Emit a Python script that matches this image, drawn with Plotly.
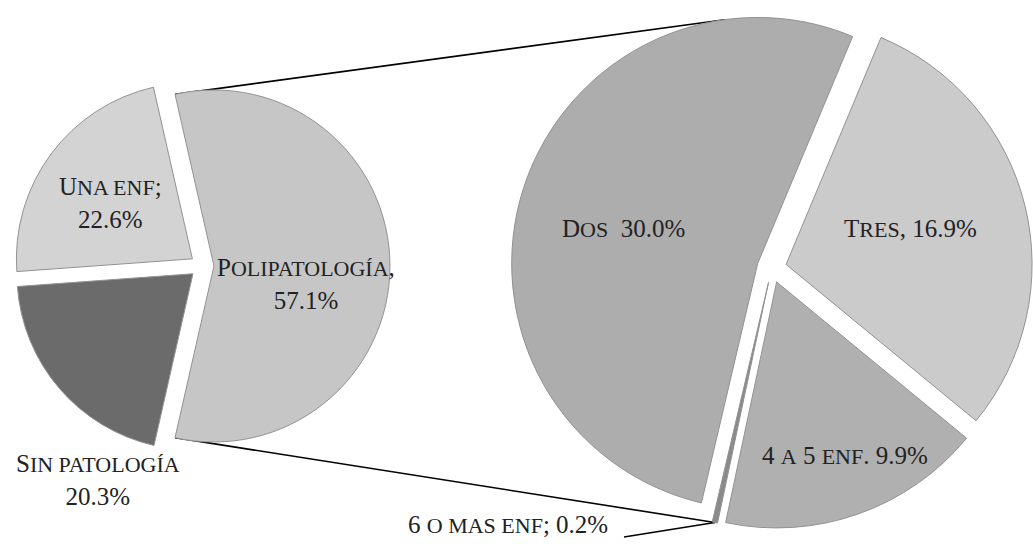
import math
import plotly.graph_objects as go

W, H = 1033, 544

# ---------------- data ----------------
main_labels = ["Polipatología", "Sin patología", "Una enf"]
main_values = [57.1, 20.3, 22.6]
main_seps = [",<br>", "<br>", ";<br>"]

sub_labels = ["Tres", "4 a 5 enf.", "6 o mas enf", "Dos"]
sub_values = [16.9, 9.9, 0.2, 30.0]
sub_seps = [", ", " ", "; ", "\u00a0 "]

# ---------------- style ----------------
main_colors = ["#c6c6c6", "#6b6b6b", "#d3d3d3"]
sub_colors = ["#cbcbcb", "#b0b0b0", "#8a8a8a", "#adadad"]
BIG, SMALL = 25, 22
FONT = "Liberation Serif"

# left pie geometry (pixels)
L_CX, L_CY, L_R, L_PULL = 202, 266, 176, 0.068
# right pie geometry (pixels)
R_R, R_PULL = 246, 0.06
R_HALF = R_R * (1 + R_PULL)
R_CX, R_CY = W - R_HALF - 0.5, 268
R_ROT = 22.7

# rotation of left pie so the "other" slice is centred on the right
L_ROT = 90 - 180 * main_values[0] / sum(main_values)


def smallcaps(s):
    out, run = [], ""

    def flush(run):
        core = run.rstrip(" ")
        trail = len(run) - len(core)
        return f"<span style='font-size:{SMALL}px'>{core}</span>" + " " * trail

    for ch in s:
        if ch.islower() or (ch == " " and run):
            run += ch.upper()
        else:
            if run:
                out.append(flush(run))
                run = ""
            out.append(ch)
    if run:
        out.append(flush(run))
    return "".join(out)


def domain(cx, cy, half):
    return dict(x=[(cx - half) / W, (cx + half) / W],
                y=[1 - (cy + half) / H, 1 - (cy - half) / H])


def geom(values, rotation, cx, cy, r, pull):
    total = sum(values)
    ang = 90 - rotation
    res = []
    for v in values:
        span = 360 * v / total
        a0, a1 = ang, ang - span
        mid = math.radians((a0 + a1) / 2)
        res.append(dict(a0=a0, a1=a1, mid=(a0 + a1) / 2,
                        cx=cx + pull * r * math.cos(mid),
                        cy=cy - pull * r * math.sin(mid)))
        ang = a1
    return res


def pt(g, r, a):
    return (g["cx"] + r * math.cos(math.radians(a)), g["cy"] - r * math.sin(math.radians(a)))


def paper(p):
    return p[0] / W, 1 - p[1] / H


fig = go.Figure()
fig.add_trace(go.Pie(
    labels=main_labels, values=main_values, sort=False, direction="clockwise",
    rotation=L_ROT, pull=[L_PULL] * 3, textinfo="none", hoverinfo="label+percent",
    marker=dict(colors=main_colors, line=dict(color="#929292", width=1)),
    domain=domain(L_CX, L_CY, L_R * (1 + L_PULL)), showlegend=False))
fig.add_trace(go.Pie(
    labels=sub_labels, values=sub_values, sort=False, direction="clockwise",
    rotation=R_ROT, pull=[R_PULL] * 4, textinfo="none", hoverinfo="label+value",
    marker=dict(colors=sub_colors, line=dict(color="#929292", width=1)),
    domain=domain(R_CX, R_CY, R_HALF), showlegend=False))

# ---------------- connector lines ----------------
gl = geom(main_values, L_ROT, L_CX, L_CY, L_R, L_PULL)
gr = geom(sub_values, R_ROT, R_CX, R_CY, R_R, R_PULL)
poli = gl[0]
p_top = pt(poli, L_R, poli["a0"])
p_bot = pt(poli, L_R, poli["a1"])

dos = gr[3]
dx, dy = dos["cx"] - p_top[0], dos["cy"] - p_top[1]
Ld = math.hypot(dx, dy)
beta = math.asin(R_R / Ld)
th = math.atan2(dy, dx) - beta
tl = math.sqrt(Ld ** 2 - R_R ** 2)
t_top = (p_top[0] + tl * math.cos(th), p_top[1] + tl * math.sin(th))

six = gr[2]
t_bot = pt(six, R_R, six["mid"])

shapes = []
for a, b in [(p_top, t_top), (p_bot, t_bot)]:
    x0, y0 = paper(a)
    x1, y1 = paper(b)
    shapes.append(dict(type="line", xref="paper", yref="paper", x0=x0, y0=y0, x1=x1, y1=y1,
                       line=dict(color="black", width=1.6), layer="below"))

# leader for the tiny slice
lead_end = (624, 537)
x0, y0 = paper(t_bot)
x1, y1 = paper(lead_end)
shapes.append(dict(type="line", xref="paper", yref="paper", x0=x0, y0=y0, x1=x1, y1=y1,
                   line=dict(color="black", width=1.3), layer="below"))

# ---------------- labels ----------------
main_pos = [(306, 284), (98, 480), (110, 203)]
sub_pos = [(910, 228), (845, 455), (508, 524), (623, 229)]

annotations = []
for lab, val, sep, pos in zip(main_labels, main_values, main_seps, main_pos):
    x, y = paper(pos)
    annotations.append(dict(text=smallcaps(lab) + sep + f"{val:.1f}%", x=x, y=y, xref="paper",
                            yref="paper", showarrow=False, xanchor="center", yanchor="middle",
                            align="center", font=dict(family=FONT, size=BIG, color="#222222")))
for lab, val, sep, pos in zip(sub_labels, sub_values, sub_seps, sub_pos):
    x, y = paper(pos)
    annotations.append(dict(text=smallcaps(lab) + sep + f"{val:.1f}%", x=x, y=y, xref="paper",
                            yref="paper", showarrow=False, xanchor="center", yanchor="middle",
                            align="center", font=dict(family=FONT, size=BIG, color="#222222")))

fig.update_layout(width=W, height=H, margin=dict(l=0, r=0, t=0, b=0),
                  paper_bgcolor="white", plot_bgcolor="white", showlegend=False,
                  shapes=shapes, annotations=annotations)

fig.write_html("out.html")
